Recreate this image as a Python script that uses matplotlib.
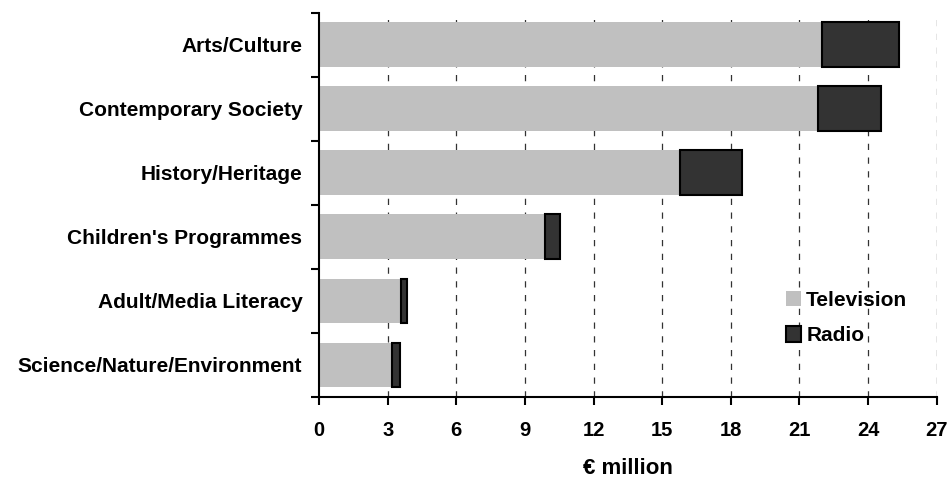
import matplotlib
matplotlib.use("Agg")
import matplotlib.pyplot as plt
import numpy as np
from matplotlib.patches import Patch

categories = ["Arts/Culture", "Contemporary Society", "History/Heritage",
              "Children's Programmes", "Adult/Media Literacy",
              "Science/Nature/Environment"]
television = [22.0, 21.8, 15.8, 9.9, 3.6, 3.2]
radio = [3.35, 2.75, 2.7, 0.65, 0.25, 0.35]
xticks = [0, 3, 6, 9, 12, 15, 18, 21, 24, 27]

plt.rcParams['font.family'] = ['Liberation Sans', 'DejaVu Sans']
plt.rcParams['font.weight'] = 'bold'

fig = plt.figure(figsize=(9.5, 4.8), dpi=100)
ax = fig.add_axes([319/950, 1 - 397/480, (936.7 - 319)/950, (397 - 12.7)/480])

n = len(categories)
y = np.arange(n)[::-1]
h = 0.70
ax.barh(y, television, height=h, color='#c0c0c0', edgecolor='none', zorder=2, label='Television')
ax.barh(y, radio, left=television, height=h, color='#333333', edgecolor='black',
        linewidth=1.5, zorder=3, label='Radio')

ax.set_xlim(0, 27)
ax.set_ylim(-0.5, n - 0.5)
ax.set_xticks(xticks)
ax.set_xticklabels([str(t) for t in xticks], fontsize=14.5, fontweight='bold')
ax.set_yticks(np.arange(n + 1) - 0.5)
ax.set_yticklabels([])
ax.set_yticks(y, minor=True)
ax.set_yticklabels(categories, minor=True, fontsize=15, fontweight='bold')
ax.tick_params(axis='y', which='minor', length=0, pad=12)
ax.tick_params(axis='y', which='major', length=6, width=1.5, direction='out')
ax.tick_params(axis='x', length=6, width=1.5, direction='out', pad=11)

for s in ['top', 'right']:
    ax.spines[s].set_visible(False)
for s in ['left', 'bottom']:
    ax.spines[s].set_linewidth(1.5)

for t in xticks[1:]:
    ax.axvline(t, color='#333333', linewidth=0.9, linestyle=(0, (5, 6)), zorder=1)

ax.set_xlabel('€ million', fontsize=16, fontweight='bold', labelpad=13)

handles = [Patch(facecolor='#c0c0c0', edgecolor='none', label='Television'),
           Patch(facecolor='#333333', edgecolor='black', linewidth=1.5, label='Radio')]
leg = fig.legend(handles=handles, loc='upper left', bbox_to_anchor=(786/950, 1 - 291/480),
                 bbox_transform=fig.transFigure, frameon=False, fontsize=15,
                 handlelength=0.72, handleheight=0.75, handletextpad=0.25,
                 labelspacing=0.78, borderpad=0, borderaxespad=0)
for t in leg.get_texts():
    t.set_fontweight('bold')

fig.savefig('out.png', dpi=100)
